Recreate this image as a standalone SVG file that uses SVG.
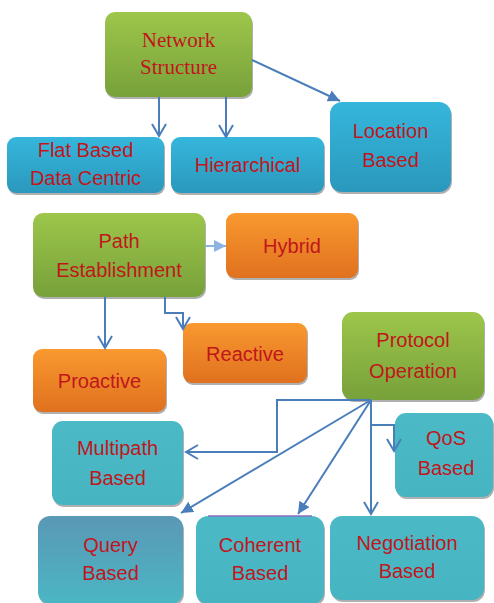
<svg xmlns="http://www.w3.org/2000/svg" width="494" height="603" viewBox="0 0 494 603">
<defs>
<linearGradient id="gGreen" x1="0" y1="0" x2="0" y2="1"><stop offset="0" stop-color="#9dc64b"/><stop offset="1" stop-color="#77a13a"/></linearGradient>
<linearGradient id="gBlue" x1="0" y1="0" x2="0" y2="1"><stop offset="0" stop-color="#36b6dc"/><stop offset="1" stop-color="#2a98bc"/></linearGradient>
<linearGradient id="gOrange" x1="0" y1="0" x2="0" y2="1"><stop offset="0" stop-color="#f9992f"/><stop offset="1" stop-color="#e0711f"/></linearGradient>
<linearGradient id="gTeal" x1="0" y1="0" x2="0" y2="1"><stop offset="0" stop-color="#4cb9c6"/><stop offset="1" stop-color="#47b4c2"/></linearGradient>
<linearGradient id="gQuery" x1="0" y1="0" x2="0" y2="1"><stop offset="0" stop-color="#5a98b6"/><stop offset="1" stop-color="#4bb6c4"/></linearGradient>
<marker id="open" markerUnits="userSpaceOnUse" markerWidth="16" markerHeight="18" refX="13" refY="8" orient="auto">
<path d="M1,1 L13,8 L1,15" fill="none" stroke="#4a7ebb" stroke-width="2"/>
</marker>
<marker id="fill" markerUnits="userSpaceOnUse" markerWidth="14" markerHeight="14" refX="12" refY="6" orient="auto">
<path d="M0,0 L12,6 L0,12 z" fill="#4a7ebb"/>
</marker>
<marker id="fillLight" markerUnits="userSpaceOnUse" markerWidth="14" markerHeight="14" refX="12" refY="6" orient="auto">
<path d="M0,0 L12,6 L0,12 z" fill="#8db3e2"/>
</marker>
</defs>
<style>
.sh{fill:#8f8f8f;opacity:0.7}
.t{font-family:"Liberation Sans",Arial,sans-serif;font-size:20px;fill:#c0161c;text-anchor:middle}
.ts{font-family:"Liberation Serif","Times New Roman",serif;font-size:21px;fill:#c0161c;text-anchor:middle}
.c{fill:none;stroke:#4a7ebb;stroke-width:2}
.cl{fill:none;stroke:#8db3e2;stroke-width:2}
</style>
<rect width="494" height="603" fill="#ffffff"/>

<g id="network-structure">
<rect class="sh" x="106" y="14" width="147" height="85" rx="10"/>
<rect x="105" y="12" width="147" height="85" rx="10" fill="url(#gGreen)"/>
<text class="ts" x="178.5" y="47">Network</text>
<text class="ts" x="178.5" y="74">Structure</text>
</g>

<g id="flat-based">
<rect class="sh" x="8" y="139" width="157" height="56" rx="9"/>
<rect x="7" y="137" width="157" height="56" rx="9" fill="url(#gBlue)"/>
<text class="t" x="85.5" y="157">Flat Based</text>
<text class="t" x="85.5" y="185">Data Centric</text>
</g>

<g id="hierarchical">
<rect class="sh" x="172" y="139" width="153" height="56" rx="9"/>
<rect x="171" y="137" width="153" height="56" rx="9" fill="url(#gBlue)"/>
<text class="t" x="247.5" y="172">Hierarchical</text>
</g>

<g id="location-based">
<rect class="sh" x="331" y="104" width="121" height="90" rx="12"/>
<rect x="330" y="102" width="121" height="90" rx="12" fill="url(#gBlue)"/>
<text class="t" x="390.5" y="138">Location</text>
<text class="t" x="390.5" y="167">Based</text>
</g>

<g id="path-establishment">
<rect class="sh" x="34" y="215" width="172" height="84" rx="10"/>
<rect x="33" y="213" width="172" height="84" rx="10" fill="url(#gGreen)"/>
<text class="t" x="119" y="248">Path</text>
<text class="t" x="119" y="277">Establishment</text>
</g>

<g id="hybrid">
<rect class="sh" x="227" y="215" width="132" height="65" rx="9"/>
<rect x="226" y="213" width="132" height="65" rx="9" fill="url(#gOrange)"/>
<text class="t" x="292" y="253">Hybrid</text>
</g>

<g id="reactive">
<rect class="sh" x="184" y="325" width="124" height="60" rx="9"/>
<rect x="183" y="323" width="124" height="60" rx="9" fill="url(#gOrange)"/>
<text class="t" x="245" y="361">Reactive</text>
</g>

<g id="proactive">
<rect class="sh" x="34" y="351" width="133" height="63" rx="9"/>
<rect x="33" y="349" width="133" height="63" rx="9" fill="url(#gOrange)"/>
<text class="t" x="99.5" y="388">Proactive</text>
</g>

<g id="protocol-operation">
<rect class="sh" x="343" y="314" width="142" height="88" rx="11"/>
<rect x="342" y="312" width="142" height="88" rx="11" fill="url(#gGreen)"/>
<text class="t" x="413" y="347">Protocol</text>
<text class="t" x="413" y="378">Operation</text>
</g>

<g id="multipath-based">
<rect class="sh" x="53" y="423" width="131" height="84" rx="11"/>
<rect x="52" y="421" width="131" height="84" rx="11" fill="url(#gTeal)"/>
<text class="t" x="117.5" y="455">Multipath</text>
<text class="t" x="117.5" y="485">Based</text>
</g>

<g id="qos-based">
<rect class="sh" x="396" y="415" width="98" height="84" rx="11"/>
<rect x="395" y="413" width="98" height="84" rx="11" fill="url(#gTeal)"/>
<text class="t" x="446" y="445">QoS</text>
<text class="t" x="446" y="475">Based</text>
</g>

<g id="query-based">
<rect class="sh" x="39" y="518" width="145" height="88" rx="12"/>
<rect x="38" y="516" width="145" height="88" rx="12" fill="url(#gQuery)"/>
<text class="t" x="110.5" y="552">Query</text>
<text class="t" x="110.5" y="580">Based</text>
</g>

<g id="coherent-based">
<rect class="sh" x="197" y="518" width="128" height="88" rx="12"/>
<rect x="196" y="516" width="128" height="88" rx="12" fill="url(#gTeal)"/>
<path d="M208,516 H312" stroke="#8a6fc0" stroke-width="1.5"/>
<text class="t" x="260" y="552">Coherent</text>
<text class="t" x="260" y="580">Based</text>
</g>

<g id="negotiation-based">
<rect class="sh" x="331" y="518" width="154" height="84" rx="12"/>
<rect x="330" y="516" width="154" height="84" rx="12" fill="url(#gTeal)"/>
<text class="t" x="407" y="550">Negotiation</text>
<text class="t" x="407" y="578">Based</text>
</g>

<g id="connectors">
<path class="c" d="M159,97 V136" marker-end="url(#open)"/>
<path class="c" d="M226,97 V137" marker-end="url(#open)"/>
<path class="c" d="M252,60 L340,101" marker-end="url(#fill)"/>
<path class="cl" d="M205,246 H226" marker-end="url(#fillLight)"/>
<path class="c" d="M105,297 V348" marker-end="url(#open)"/>
<path class="c" d="M165,297 V313 H183 V329" marker-end="url(#open)"/>
<path class="c" d="M371,400 H277 V452 H186" marker-end="url(#open)"/>
<path class="c" d="M371,400 L181,513" marker-end="url(#fill)"/>
<path class="c" d="M371,400 L298,514" marker-end="url(#fill)"/>
<path class="c" d="M371,400 V514" marker-end="url(#open)"/>
<path class="c" d="M371,425 H394 V451" marker-end="url(#open)"/>
</g>
</svg>
